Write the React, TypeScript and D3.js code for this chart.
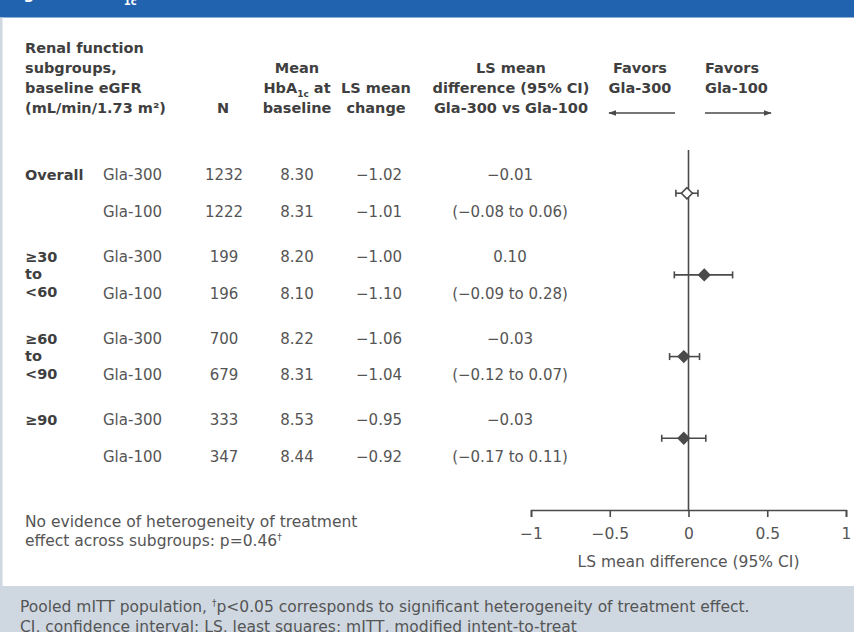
import React, { useEffect, useRef } from "react";
import * as d3 from "d3";

// ---- data ----
const groupLabels = [["Overall"], ["≥30", "to", "<60"], ["≥60", "to", "<90"], ["≥90"]];
const treatments = ["Gla-300", "Gla-100"];
const nValues = [[1232, 1222], [199, 196], [700, 679], [333, 347]];
const baselineHbA1c = [[8.30, 8.31], [8.20, 8.10], [8.22, 8.31], [8.53, 8.44]];
const lsMeanChange = [[-1.02, -1.01], [-1.00, -1.10], [-1.06, -1.04], [-0.95, -0.92]];
const lsDiff = [-0.01, 0.10, -0.03, -0.03];
const ciLow = [-0.08, -0.09, -0.12, -0.17];
const ciHigh = [0.06, 0.28, 0.07, 0.11];
const xTicks = [-1, -0.5, 0, 0.5, 1];

const W = 854;
const H = 632;
const FONT = "'DejaVu Sans', sans-serif";
const BOLD_C = "#3f3f3f";
const TEXT_C = "#555555";
const LINE_C = "#4a4a4a";

const f2 = d3.format(".2f");

export default function App() {
  const axisRef = useRef<SVGGElement>(null);

  const x = d3.scaleLinear().domain([-1, 1]).range([531, 846]);
  const groupY = d3.scalePoint<number>().domain([0, 1, 2, 3]).range([175, 420]);
  const rowGap = 36.5;
  const axisY = 510;

  useEffect(() => {
    document.body.style.margin = "0";
    if (axisRef.current) {
      const g = d3.select(axisRef.current);
      g.selectAll("*").remove();
      g.call(
        d3
          .axisBottom(x)
          .tickValues(xTicks)
          .tickSize(7)
          .tickSizeOuter(7)
          .tickPadding(11)
          .tickFormat((d) => (d === 0 ? "0" : d3.format("")(d as number)))
      );
      g.selectAll("path, line").attr("stroke", LINE_C).attr("stroke-width", 1.6);
      g.selectAll("text")
        .attr("fill", TEXT_C)
        .style("font-family", FONT)
        .style("font-size", "15.5px");
    }
  }, []);

  const headerLines = (lines: React.ReactNode[], cx: number, lastY: number, anchor = "middle") =>
    lines.map((l, i) => (
      <text
        key={i}
        x={cx}
        y={lastY - (lines.length - 1 - i) * 20}
        textAnchor={anchor}
        fontWeight="bold"
        fontSize={14.5}
        fill={BOLD_C}
      >
        {l}
      </text>
    ));

  const hdrBase = 113;

  return (
    <svg width={W} height={H} style={{ display: "block" }} fontFamily={FONT}>
      <rect x={0} y={0} width={W} height={H} fill="#ffffff" />
      {/* top band */}
      <rect x={0} y={0} width={W} height={17.5} fill="#2163ae" />
      <text x={8} y={-1} fill="#ffffff" fontWeight="bold" fontSize={15}>
        Figure 2. HbA
        <tspan fontSize={10} dy={6}>1c</tspan>
      </text>
      {/* left strip */}
      <rect x={0} y={17.5} width={2.5} height={569} fill="#cfd8e1" />
      {/* footer */}
      <rect x={0} y={586} width={W} height={H - 586} fill="#cfd8e1" />

      {/* headers */}
      {headerLines(["Renal function", "subgroups,", "baseline eGFR", "(mL/min/1.73 m²)"], 25, hdrBase, "start")}
      {headerLines(["N"], 223, hdrBase)}
      {headerLines(
        [
          "Mean",
          <>
            HbA<tspan fontSize={9} dy={4}>1c</tspan>
            <tspan dy={-4}> at</tspan>
          </>,
          "baseline",
        ],
        297,
        hdrBase
      )}
      {headerLines(["LS mean", "change"], 376, hdrBase)}
      {headerLines(["LS mean", "difference (95% CI)", "Gla-300 vs Gla-100"], 511, hdrBase)}
      {headerLines(["Favors", "Gla-300"], 640, hdrBase - 20)}
      {headerLines(["Favors", "Gla-100"], 705, hdrBase - 20, "start")}

      {/* arrows */}
      <defs>
        <marker id="arrow" viewBox="0 0 10 10" refX={9} refY={5} markerWidth={8} markerHeight={8} orient="auto-start-reverse" markerUnits="userSpaceOnUse">
          <path d="M0,1.5 L10,5 L0,8.5 Z" fill={LINE_C} />
        </marker>
      </defs>
      <line x1={675} x2={609} y1={113} y2={113} stroke={LINE_C} strokeWidth={1.6} markerEnd="url(#arrow)" />
      <line x1={705} x2={771} y1={113} y2={113} stroke={LINE_C} strokeWidth={1.6} markerEnd="url(#arrow)" />

      {/* table rows */}
      {groupLabels.map((lines, gi) => {
        const y0 = groupY(gi)!;
        return (
          <g key={gi}>
            {lines.map((l, li) => (
              <text key={li} x={25} y={y0 + li * 17.5} dy="0.36em" fontWeight="bold" fontSize={14.5} fill={BOLD_C}>
                {l}
              </text>
            ))}
            {treatments.map((t, ti) => {
              const y = y0 + ti * rowGap;
              return (
                <g key={ti} fontSize={15} fill={TEXT_C}>
                  <text x={103} y={y} dy="0.36em">{t}</text>
                  <text x={224} y={y} dy="0.36em" textAnchor="middle">{nValues[gi][ti]}</text>
                  <text x={297} y={y} dy="0.36em" textAnchor="middle">{f2(baselineHbA1c[gi][ti])}</text>
                  <text x={379} y={y} dy="0.36em" textAnchor="middle">{f2(lsMeanChange[gi][ti])}</text>
                </g>
              );
            })}
            <text x={510} y={y0} dy="0.36em" textAnchor="middle" fontSize={15} fill={TEXT_C}>
              {f2(lsDiff[gi])}
            </text>
            <text x={510} y={y0 + rowGap} dy="0.36em" textAnchor="middle" fontSize={15} fill={TEXT_C}>
              {`(${f2(ciLow[gi])} to ${f2(ciHigh[gi])})`}
            </text>
          </g>
        );
      })}

      {/* forest plot */}
      <line x1={x(0)} x2={x(0)} y1={150} y2={axisY} stroke={LINE_C} strokeWidth={1.6} />
      {lsDiff.map((d, gi) => {
        const y = groupY(gi)! + rowGap / 2;
        const cx = x(d);
        const s = 5.5;
        return (
          <g key={gi}>
            <line x1={x(ciLow[gi])} x2={x(ciHigh[gi])} y1={y} y2={y} stroke={LINE_C} strokeWidth={1.6} />
            <line x1={x(ciLow[gi])} x2={x(ciLow[gi])} y1={y - 3.5} y2={y + 3.5} stroke={LINE_C} strokeWidth={1.6} />
            <line x1={x(ciHigh[gi])} x2={x(ciHigh[gi])} y1={y - 3.5} y2={y + 3.5} stroke={LINE_C} strokeWidth={1.6} />
            <path
              d={`M${cx},${y - s} L${cx + s},${y} L${cx},${y + s} L${cx - s},${y} Z`}
              fill={gi === 0 ? "#ffffff" : LINE_C}
              stroke={LINE_C}
              strokeWidth={1.6}
            />
          </g>
        );
      })}
      <g ref={axisRef} transform={`translate(0,${axisY})`} />
      <text x={x(0)} y={567} textAnchor="middle" fontSize={15.5} fill={TEXT_C}>
        LS mean difference (95% CI)
      </text>

      {/* heterogeneity note */}
      <text x={25} y={527} fontSize={15.5} fill={TEXT_C}>
        No evidence of heterogeneity of treatment
      </text>
      <text x={25} y={546} fontSize={15.5} fill={TEXT_C}>
        effect across subgroups: p=0.46<tspan fontSize={9} dy={-6}>†</tspan>
      </text>

      {/* footnote */}
      <text x={20} y={612} fontSize={15.5} fill={TEXT_C}>
        Pooled mITT population, <tspan fontSize={9} dy={-6}>†</tspan>
        <tspan dy={6}>p&lt;0.05 corresponds to significant heterogeneity of treatment effect.</tspan>
      </text>
      <text x={20} y={632} fontSize={15.5} fill={TEXT_C}>
        CI, confidence interval; LS, least squares; mITT, modified intent-to-treat
      </text>
    </svg>
  );
}
